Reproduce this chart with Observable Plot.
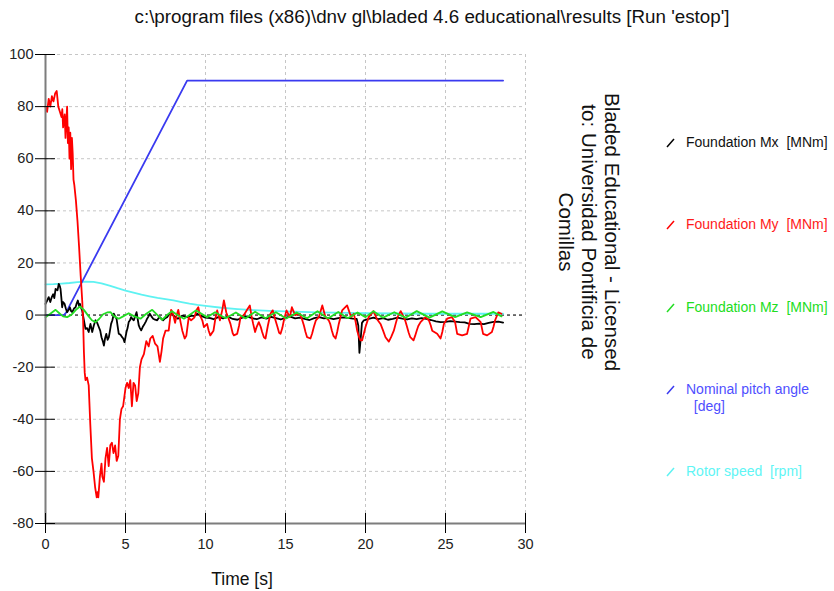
<!DOCTYPE html>
<html><head><meta charset="utf-8">
<script src="https://cdn.jsdelivr.net/npm/d3@7"></script>
<script src="https://cdn.jsdelivr.net/npm/@observablehq/plot@0.6"></script>
<style>
body{margin:0;background:#fff;font-family:"Liberation Sans",Arial,sans-serif;}
#wrap{position:relative;width:834px;height:591px;overflow:hidden;background:#fff;}
#title{position:absolute;left:432px;top:6px;transform:translateX(-50%);white-space:nowrap;font-size:18.8px;line-height:22px;color:#111;}
#chart{position:absolute;left:0;top:30px;}
#xlabel{position:absolute;left:242px;top:569px;transform:translateX(-50%);font-size:17.5px;color:#111;white-space:nowrap;}
#lic{position:absolute;left:589px;top:232px;transform:translate(-50%,-50%) rotate(90deg);font-size:20.6px;line-height:23px;text-align:center;white-space:nowrap;color:#111;}
.leg{position:absolute;left:666px;font-size:14px;line-height:17px;white-space:pre;}
.leg svg{position:absolute;left:0;top:4px;}
.leg span{position:absolute;left:20px;top:0;}
</style></head>
<body><div id="wrap">
<div id="title"></div>
<div id="chart"></div>
<div id="xlabel"></div>
<div id="lic"></div>
</div>
<script>
const titleText = "c:\\program files (x86)\\dnv gl\\bladed 4.6 educational\\results [Run 'estop']";
const xLabel = "Time [s]";
const licenseLines = ["Bladed Educational - Licensed", "to: Universidad Pontificia de", "Comillas"];
const xTicks = [0, 5, 10, 15, 20, 25, 30];
const yTicks = [-80, -60, -40, -20, 0, 20, 40, 60, 80, 100];
const seriesNames = ["Foundation Mx", "Foundation My", "Foundation Mz", "Nominal pitch angle", "Rotor speed"];
const seriesUnits = ["[MNm]", "[MNm]", "[MNm]", "[deg]", "[rpm]"];
const lineColors = ["#000000", "#ff0000", "#22dd22", "#3a3af0", "#5ef2f2"];
const textColors = ["#111111", "#ff1a1a", "#22dd22", "#4f4fff", "#5ff5f5"];

const foundationMx = [[0,4.3],[0.1,5.5],[0.2,6.9],[0.3,5],[0.4,7],[0.48,8],[0.55,6.5],[0.63,10],[0.75,9.5],[0.83,12],[0.9,11],[0.94,10],[1.0,6],[1.04,3],[1.1,5],[1.19,4.3],[1.27,2.5],[1.35,1.1],[1.45,2],[1.52,3],[1.6,1.5],[1.67,1.1],[1.78,2.5],[1.88,3],[1.95,4.5],[2.02,5.6],[2.1,3.5],[2.15,4.3],[2.22,2.8],[2.29,1.8],[2.4,-2],[2.5,-5.3],[2.6,-5],[2.7,-6.5],[2.81,-3.4],[2.92,-6.5],[3.02,-4],[3.125,-2],[3.23,-3],[3.33,-4.6],[3.42,-6],[3.5,-8.5],[3.58,-10],[3.65,-11.7],[3.72,-9],[3.8,-7.2],[3.88,-9.5],[3.96,-8.5],[4.03,-6],[4.1,-3.4],[4.18,-2],[4.27,0.5],[4.35,-0.5],[4.44,-1.4],[4.5,-4],[4.58,-7.2],[4.68,-7.5],[4.79,-8.5],[4.86,-9],[4.94,-10.4],[5.0,-8.5],[5.06,-6.5],[5.13,-5],[5.2,-2.7],[5.28,-2],[5.35,-0.8],[5.43,-1.5],[5.52,-2],[5.6,-0.5],[5.69,1.1],[5.76,-1.5],[5.83,-4],[5.9,-5],[5.98,-5.9],[6.08,-4.5],[6.19,-3.4],[6.27,-2.5],[6.35,-1.4],[6.44,-0.5],[6.52,0.5],[6.62,-0.5],[6.73,-1.4],[6.85,-1.8],[6.98,-2],[7.06,-1.2],[7.15,-0.8],[7.25,-1.5],[7.35,-2],[7.48,-1.2],[7.6,-0.8],[7.72,0.2],[7.85,1.1],[7.93,0.3],[8.0,-0.2],[8.14,-0.8],[8.27,-1.4],[8.4,-0.9],[8.54,-0.2],[8.7,-0.5],[8.85,-0.8],[9.0,-0.5],[9.17,-0.2],[9.3,-0.4],[9.48,0.5],[9.65,-0.2],[9.8,-0.5],[10.0,-1],[10.3,-1.2],[10.5,-1.6],[10.8,-0.8],[11.1,-1.3],[11.4,-0.6],[11.7,-1.5],[12.0,-1.8],[12.3,-1.0],[12.6,-0.5],[12.9,-1.2],[13.2,-1.6],[13.5,-0.9],[13.8,-1.4],[14.1,-0.7],[14.4,-1.2],[14.7,-1.7],[15.0,-1.0],[15.3,-0.6],[15.6,-1.3],[15.9,-1.0],[16.2,-1.5],[16.5,-1.9],[16.8,-1.2],[17.1,-0.8],[17.4,-1.3],[17.7,-1.1],[18.0,-1.6],[18.3,-1.2],[18.6,-0.9],[18.9,-1.1],[19.2,-1.4],[19.45,-1.5],[19.55,-4],[19.62,-14.5],[19.7,-9],[19.78,-3],[19.9,-2],[20.2,-1.5],[20.5,-1.0],[20.8,-1.6],[21.1,-1.2],[21.4,-1.8],[21.7,-1.5],[22.0,-1.0],[22.3,-1.4],[22.6,-1.7],[22.9,-1.3],[23.2,-1.6],[23.5,-1.2],[23.8,-1.5],[24.1,-1.9],[24.4,-2.4],[24.7,-2.7],[25.0,-2.6],[25.3,-2.3],[25.6,-2.5],[25.9,-2.7],[26.2,-2.8],[26.5,-3.4],[26.8,-3.5],[27.1,-3.3],[27.4,-3.5],[27.7,-3.0],[28.0,-2.6],[28.3,-2.5],[28.6,-2.9]];

const foundationMy = [[0,80],[0.1,78],[0.2,83],[0.3,80],[0.4,84],[0.5,82],[0.6,85],[0.7,86],[0.8,80],[0.9,78],[1.0,76],[1.05,79],[1.1,72],[1.2,77],[1.25,68],[1.3,74],[1.35,80],[1.4,66],[1.45,72],[1.5,60],[1.55,70],[1.6,56],[1.65,68],[1.7,62],[1.75,52],[1.8,50],[1.9,44],[2.0,36],[2.1,26],[2.2,15],[2.3,5],[2.35,-2],[2.4,-14],[2.45,-22],[2.5,-25],[2.6,-24],[2.7,-27],[2.8,-42],[2.9,-55],[3.0,-60],[3.1,-66],[3.2,-70],[3.25,-68],[3.3,-70],[3.4,-62],[3.5,-57],[3.55,-62],[3.65,-64],[3.75,-55],[3.85,-51],[3.95,-58],[4.05,-50],[4.15,-49],[4.25,-53],[4.35,-50],[4.45,-56],[4.55,-54],[4.65,-40],[4.75,-36],[4.85,-35],[5.0,-28],[5.1,-26],[5.2,-28],[5.3,-25],[5.4,-35],[5.5,-26],[5.6,-27],[5.7,-33],[5.8,-30],[5.9,-20],[6.0,-17],[6.15,-15],[6.3,-10],[6.45,-12],[6.55,-9],[6.7,-8],[6.85,-11],[7.0,-12],[7.15,-18],[7.25,-14],[7.35,-9],[7.5,-6],[7.7,-6],[7.85,2],[7.95,1],[8.1,-3],[8.2,0],[8.3,2],[8.45,-3],[8.55,-6],[8.7,-9],[8.8,-8],[8.95,-1],[9.1,-2],[9.3,-1],[9.45,2],[9.55,3],[9.65,0],[9.8,-2],[9.9,-4.6],[10.1,-3.4],[10.2,-6],[10.3,-7.8],[10.5,-6],[10.6,-2],[10.73,1.8],[10.9,-2],[11.05,2],[11.15,5.6],[11.3,1],[11.45,-1.5],[11.56,-3.4],[11.7,-7],[11.77,-7.8],[11.98,-7.2],[12.1,-4],[12.19,-0.8],[12.4,0],[12.6,2],[12.77,3.7],[12.88,-0.5],[12.98,-3.4],[13.1,-6.5],[13.2,-4.5],[13.33,-2.7],[13.45,-4.5],[13.54,-6.5],[13.65,-8.5],[13.75,-9],[13.9,-4],[14.06,0.5],[14.2,1.8],[14.35,-1.5],[14.5,-4.6],[14.6,-6.8],[14.69,-7.2],[14.8,-5],[14.9,-2],[15.06,1.8],[15.27,-0.8],[15.4,3],[15.6,0],[15.9,0.5],[16.05,-2],[16.15,-4],[16.25,-6.5],[16.35,-8.5],[16.56,-9],[16.67,-7],[16.77,-4.6],[16.9,-2],[17.08,-0.8],[17.3,3.7],[17.5,-0.8],[17.7,-2],[17.8,-3.5],[17.9,-6],[18.0,-8],[18.13,-9],[18.23,-6.5],[18.33,-3.4],[18.54,1.8],[18.85,3.7],[19.1,-0.8],[19.27,0.5],[19.38,-2.5],[19.48,-6],[19.6,-8.5],[19.69,-9.7],[19.79,-9.7],[19.9,-7],[20.0,-4.6],[20.2,-0.8],[20.5,1.5],[20.7,-1.4],[20.94,-3.4],[21.1,-6],[21.25,-8.5],[21.46,-10.2],[21.6,-8.5],[21.77,-6],[21.9,-3],[22.0,-0.8],[22.2,1.5],[22.4,-0.8],[22.5,-2.5],[22.6,-4.6],[22.7,-6.8],[22.8,-8.5],[23.0,-9.7],[23.1,-8],[23.2,-6],[23.3,-4.2],[23.44,-2.7],[23.75,-0.8],[23.96,-2],[24.08,-4],[24.17,-6],[24.48,-7.2],[24.69,-9],[24.8,-6.5],[24.9,-3.4],[25.1,-1.4],[25.4,-0.8],[25.6,-2.7],[25.73,-7.2],[26.04,-7.8],[26.35,-7.2],[26.45,-4.5],[26.56,-1.4],[26.88,-0.8],[27.2,-2.7],[27.35,-7.2],[27.6,-7.8],[27.9,-6.5],[28.0,-4.5],[28.1,-2],[28.3,1],[28.5,0.5]];

const foundationMz = [[0,-0.8],[0.3,0.5],[0.63,2.0],[0.9,0.5],[1.1,-0.5],[1.35,-0.8],[1.6,0],[1.9,2],[2.15,3.3],[2.4,2],[2.7,-0.5],[2.9,-2],[3.125,-2.7],[3.35,-1.5],[3.6,0.3],[3.85,1],[4.06,1.1],[4.3,-0.5],[4.58,-1.4],[4.85,-0.5],[5.2,0.7],[5.55,-0.5],[5.94,-1.4],[6.3,0.5],[6.67,2.0],[7.0,0],[7.29,-1.8],[7.6,0],[7.9,1.5],[8.25,0],[8.65,-1.4],[9.0,0],[9.4,1.8],[9.75,0.5],[10.1,-0.8],[10.6,1.1],[11.25,-1.2],[11.9,1.0],[12.5,-1.3],[13.1,1.3],[13.75,-1.2],[14.4,1.1],[15.05,-1.3],[15.7,1.0],[16.35,-1.2],[17.0,1.5],[17.65,-1.3],[18.3,1.2],[18.9,-1.2],[19.5,1.0],[20.0,-0.8],[20.5,1.5],[21.1,-1.0],[21.8,1.1],[22.5,-1.0],[23.2,1.5],[24.0,-1.0],[24.8,1.4],[25.6,-0.8],[26.35,1.0],[27.2,-0.8],[28.0,1.2],[28.5,-0.5]];

const nominalPitch = [[0,0],[1.15,0],[1.3,1],[1.5,3.5],[8.85,90],[28.6,90]];

const rotorSpeed = [[0,11.8],[0.5,11.9],[1,12.1],[1.5,12.3],[2,12.6],[2.5,12.8],[3,12.7],[3.5,12.2],[4,11.3],[4.5,10.3],[5,9.4],[5.5,8.6],[6,7.8],[6.5,7.2],[7,6.6],[7.5,6.1],[8,5.6],[8.5,5],[9,4.4],[9.5,3.9],[10,3.5],[11,2.8],[12,2.3],[13,1.9],[14,1.6],[15,1.4],[16,1.2],[17,1.05],[18,0.9],[20,0.7],[22,0.6],[24,0.5],[26,0.5],[28.6,0.5]];

const seriesData = [foundationMx, foundationMy, foundationMz, nominalPitch, rotorSpeed];
const tables = seriesData.map(arr => arr.map(([t, v]) => ({t, v})));
const drawOrder = [4, 3, 0, 1, 2];

document.getElementById("title").textContent = titleText;
document.getElementById("xlabel").textContent = xLabel;
document.getElementById("lic").innerHTML = licenseLines.map(s => `<div>${s}</div>`).join("");

const grid = {stroke: "#c6c6c6", strokeOpacity: 1, strokeDasharray: "3,3", strokeWidth: 1};
const chart = Plot.plot({
  width: 834, height: 561,
  marginLeft: 45, marginRight: 309, marginTop: 24, marginBottom: 68,
  x: {domain: [0, 30]},
  y: {domain: [-80, 100]},
  style: {fontFamily: '"Liberation Sans", Arial, sans-serif', fontSize: "14.5px", color: "#222", background: "transparent", overflow: "visible"},
  marks: [
    Plot.gridX(xTicks.filter(d => d > 0), grid),
    Plot.gridY(yTicks.filter(d => d > -80), grid),
    Plot.ruleY([0], {stroke: "#000", strokeDasharray: "3,3", strokeWidth: 1}),
    ...drawOrder.map(i => Plot.line(tables[i], {x: "t", y: "v", stroke: lineColors[i], strokeWidth: 1.8, curve: "linear"})),
    Plot.ruleX([0], {stroke: "#7d7d7d", strokeWidth: 2}),
    Plot.ruleY([-80], {stroke: "#7d7d7d", strokeWidth: 2}),
    Plot.axisY(yTicks, {tickSize: 20, tickPadding: 2, dx: 10, stroke: "#000", label: null, tickFormat: d => String(d)}),
    Plot.axisX(xTicks, {tickSize: 20, tickPadding: 5, dy: -10, stroke: "#000", label: null})
  ]
});
document.getElementById("chart").appendChild(chart);

const wrap = document.getElementById("wrap");
seriesNames.forEach((name, i) => {
  const d = document.createElement("div");
  d.className = "leg";
  d.style.top = (134 + i * 82.3) + "px";
  const label = i === 3 ? `${name}\n  ${seriesUnits[i]}` : `${name}  ${seriesUnits[i]}`;
  d.innerHTML = `<svg width="9" height="10"><line x1="1" y1="9" x2="8" y2="1" stroke="${lineColors[i]}" stroke-width="1.5"/></svg><span style="color:${textColors[i]}"></span>`;
  d.querySelector("span").textContent = label;
  wrap.appendChild(d);
});
</script>
</body></html>
